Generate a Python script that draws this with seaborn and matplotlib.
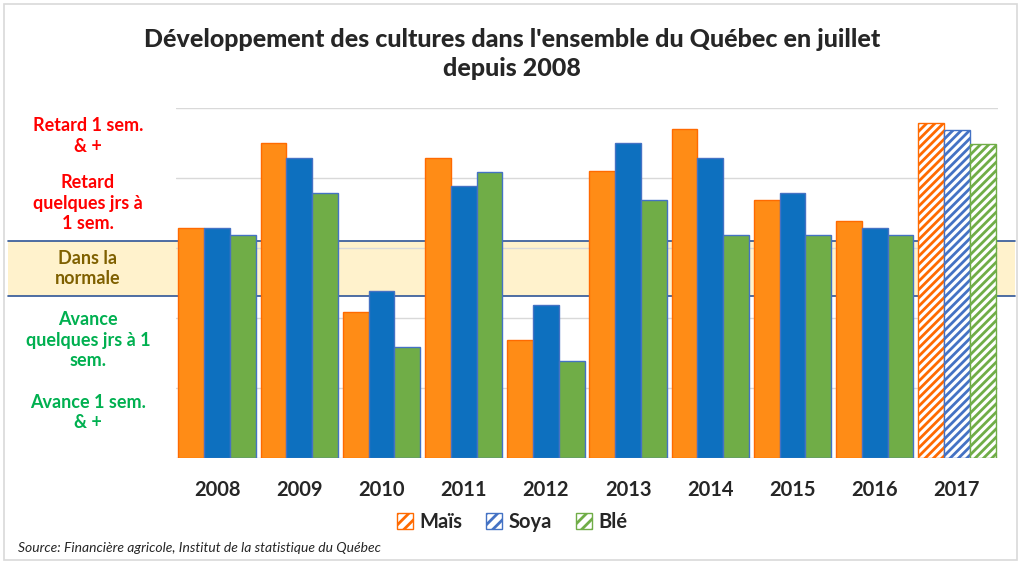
import pandas as pd
import matplotlib.pyplot as plt
import matplotlib.transforms as mtransforms
from matplotlib.patches import Patch, Rectangle
import seaborn as sns

# Values (0 = bottom, 5 = top gridline)
years = ['2008', '2009', '2010', '2011', '2012', '2013', '2014', '2015', '2016', '2017']
mais = [3.29, 4.50, 2.09, 4.29, 1.69, 4.10, 4.70, 3.69, 3.39, 4.79]
soya = [3.29, 4.29, 2.39, 3.89, 2.19, 4.50, 4.29, 3.79, 3.29, 4.69]
ble = [3.19, 3.79, 1.59, 4.09, 1.39, 3.69, 3.19, 3.19, 3.19, 4.49]
crops = ['Maïs', 'Soya', 'Blé']
normal_band = (2.32, 3.10)

fill_colors = ['#FF8C16', '#0D70BF', '#70AD47']
edge_colors = ['#FF6A00', '#4472C4', '#4472C4']
hatch_colors = ['#FF6A00', '#4472C4', '#70AD47']

zone_labels = ['Retard 1 sem.\n& +', 'Retard\nquelques jrs à\n1 sem.', 'Dans la\nnormale',
               'Avance\nquelques jrs à 1\nsem.', 'Avance 1 sem.\n& +']
zone_y = [4.6, 3.64, 2.71, 1.68, 0.65]
zone_colors = ['#FF0000', '#FF0000', '#7F6000', '#00B050', '#00B050']

df = pd.DataFrame({
    'annee': years * 3,
    'valeur': mais + soya + ble,
    'culture': [c for c in crops for _ in years],
})

sns.set_style('white')
plt.rcParams['font.family'] = ['Lato', 'DejaVu Sans']
plt.rcParams['hatch.linewidth'] = 2.0

fig = plt.figure(figsize=(10.24, 5.70), dpi=100)
ax = fig.add_axes([176 / 1024, 1 - 458 / 570, (998 - 176) / 1024, 350 / 570])
ax.set_facecolor('none')

sns.barplot(data=df, x='annee', y='valeur', hue='culture', hue_order=crops,
            palette=fill_colors, saturation=1, width=0.94, ax=ax, legend=False)

for cont, edge, hcol in zip(ax.containers, edge_colors, hatch_colors):
    for i, bar in enumerate(cont):
        bar.set_edgecolor(edge)
        bar.set_linewidth(1.0)
        bar.set_zorder(3)
        if years[i] == '2017':
            bar.set_facecolor('white')
            bar.set_edgecolor(hcol)
            bar.set_hatch('////')

# "Dans la normale" band across the whole figure
trans = mtransforms.blended_transform_factory(fig.transFigure, ax.transData)
ax.add_patch(Rectangle((8 / 1024, normal_band[0]), 1007 / 1024, normal_band[1] - normal_band[0],
                       transform=trans, facecolor='#FFF2CC', edgecolor='none',
                       clip_on=False, zorder=0.2))
for yb in normal_band:
    ax.plot([8 / 1024, 1015 / 1024], [yb, yb], transform=trans, color='#2F5597',
            lw=1.2, clip_on=False, zorder=0.3)

ax.set_ylim(0, 5)
ax.set_xlim(-0.5, len(years) - 0.5)
ax.set_yticks(range(0, 6))
ax.set_axisbelow(True)
ax.yaxis.grid(True, color='#D9D9D9', lw=1)
ax.set_yticklabels([])
ax.tick_params(axis='y', length=0)
ax.tick_params(axis='x', length=0, pad=16, labelsize=14.5)
for lab in ax.get_xticklabels():
    lab.set_fontweight('bold')
ax.set_xlabel('')
ax.set_ylabel('')
sns.despine(ax=ax, left=True, bottom=True, top=True, right=True)

for txt, yv, col in zip(zone_labels, zone_y, zone_colors):
    ax.text(88 / 1024, yv, txt, transform=trans, ha='center', va='center',
            color=col, fontsize=13, fontweight='bold', linespacing=1.25, clip_on=False)

fig.text(0.5, 0.905, "Développement des cultures dans l'ensemble du Québec en juillet\ndepuis 2008",
         ha='center', va='center', fontsize=18, fontweight='black', linespacing=1.3)

handles = [Patch(facecolor='white', edgecolor=c, hatch='///', label=n)
           for c, n in zip(hatch_colors, crops)]
fig.legend(handles=handles, loc='center', bbox_to_anchor=(0.5, 1 - 522 / 570), ncol=3,
           frameon=False, prop={'weight': 'bold', 'size': 14.5}, handlelength=0.8,
           handleheight=0.8, handletextpad=0.3, columnspacing=1.2)

fig.text(18 / 1024, 1 - 548 / 570, 'Source: Financière agricole, Institut de la statistique du Québec',
         ha='left', va='center', fontsize=10, fontstyle='italic')

fig.add_artist(Rectangle((4 / 1024, 10 / 570), 1013 / 1024, 556 / 570, transform=fig.transFigure,
                         facecolor='none', edgecolor='#D9D9D9', lw=1.2))

fig.savefig('out.png', dpi=100)
